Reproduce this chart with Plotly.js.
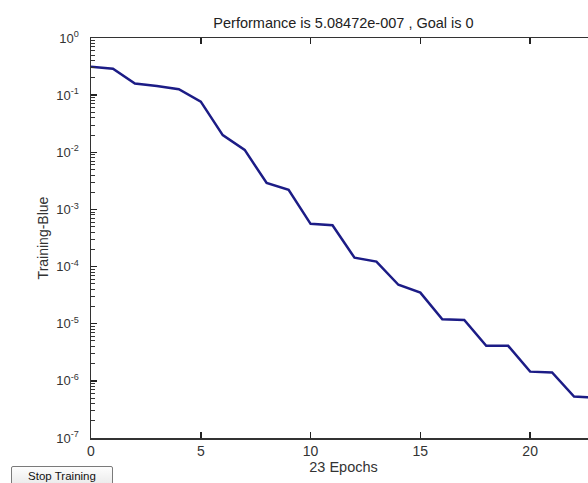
<!DOCTYPE html>
<html>
<head>
<meta charset="utf-8">
<script src="https://cdn.plot.ly/plotly-3.0.1.min.js"></script>
<style>
html,body{margin:0;padding:0;width:588px;height:483px;overflow:hidden;background:#fff;}
#chart{position:absolute;left:0;top:0;}
#btn{position:absolute;left:11px;top:466px;width:102px;height:22px;border:1px solid #7a7a7a;border-radius:2px;background:linear-gradient(#fdfdfd,#e8e8e8);font-family:Arial,"Liberation Sans",sans-serif;font-size:11.5px;color:#111;text-align:center;padding-top:3px;line-height:13px;box-sizing:border-box;}
</style>
</head>
<body>
<div id="chart"></div>
<div id="btn">Stop Training</div>
<script>
const epochs = [0,1,2,3,4,5,6,7,8,9,10,11,12,13,14,15,16,17,18,19,20,21,22,23];
const performance = [0.315,0.29,0.16,0.145,0.127,0.077,0.020,0.011,0.0029,0.0022,5.6e-4,5.3e-4,1.43e-4,1.22e-4,4.8e-5,3.5e-5,1.2e-5,1.16e-5,4.1e-6,4.1e-6,1.45e-6,1.4e-6,5.3e-7,5.08472e-7];
const yTickVals = [1e-7,1e-6,1e-5,1e-4,1e-3,1e-2,1e-1,1];
const yTickText = ["10<sup>-7</sup>","10<sup>-6</sup>","10<sup>-5</sup>","10<sup>-4</sup>","10<sup>-3</sup>","10<sup>-2</sup>","10<sup>-1</sup>","10<sup>0</sup>"];
const xTickVals = [0,5,10,15,20];
const titleText = "Performance is 5.08472e-007 , Goal is 0";

// minor tick positions (2..9 within each decade)
const minorVals = [];
for (let e = -7; e < 0; e++) for (let m = 2; m <= 9; m++) minorVals.push(m * Math.pow(10, e));

const fam = 'Arial, "Liberation Sans", sans-serif';
Plotly.newPlot('chart', [{
  x: epochs, y: performance, type: 'scatter', mode: 'lines',
  line: {color: '#1c1c86', width: 2.5}, hoverinfo: 'skip'
}, {
  x: [epochs[0]], y: [performance[0]], yaxis: 'y2', type: 'scatter', mode: 'none', hoverinfo: 'skip'
}], {
  width: 610, height: 483,
  margin: {l: 91, r: 14, t: 38, b: 45},
  paper_bgcolor: '#fff', plot_bgcolor: '#fff',
  font: {family: fam, size: 12, color: '#333'},
  showlegend: false,
  title: {text: titleText, font: {family: fam, size: 14.5, color: '#222'}, x: 0.5, xref: 'paper', y: 0.953, yanchor: 'middle'},
  xaxis: {
    range: [0, 23], tickmode: 'array', tickvals: xTickVals,
    ticks: 'inside', ticklen: 6, tickcolor: '#222', tickwidth: 1.5,
    showline: true, linecolor: '#333', linewidth: 1.5, mirror: 'ticks',
    showgrid: false, zeroline: false,
    tickfont: {family: fam, size: 14, color: '#333'},
    title: {text: '23 Epochs', font: {family: fam, size: 14.5, color: '#333'}, standoff: 3}
  },
  yaxis: {
    type: 'log', range: [-7, 0], tickmode: 'array', tickvals: yTickVals, ticktext: yTickText,
    ticks: 'inside', ticklen: 6, tickcolor: '#222', tickwidth: 1.5,
    ticklabelstandoff: 8,
    showline: true, linecolor: '#333', linewidth: 1.5, mirror: 'ticks',
    showgrid: false, zeroline: false,
    tickfont: {family: fam, size: 13, color: '#333'},
    title: {text: 'Training-Blue', font: {family: fam, size: 14, color: '#333'}, standoff: 4}
  },
  yaxis2: {
    type: 'log', range: [-7, 0], overlaying: 'y', anchor: 'x', side: 'left',
    tickmode: 'array', tickvals: minorVals, showticklabels: false,
    ticks: 'inside', ticklen: 4, tickcolor: '#333', tickwidth: 1,
    showline: false, showgrid: false, zeroline: false
  }
}, {displayModeBar: false, staticPlot: true});
</script>
</body>
</html>
